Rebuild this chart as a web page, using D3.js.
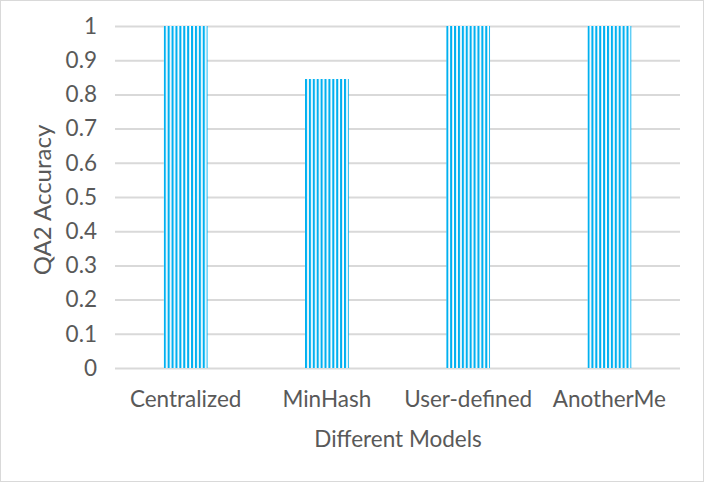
<!DOCTYPE html>
<html><head><meta charset="utf-8">
<script src="https://cdn.jsdelivr.net/npm/d3@7"></script>
<style>body{margin:0;background:#fff}svg{display:block}text{font-family:Lato,"Open Sans",sans-serif;fill:#595959}</style>
</head><body>
<svg id="c" width="704" height="482"></svg>
<script>
const categories = ["Centralized", "MinHash", "User-defined", "AnotherMe"];
const accuracy = [1, 0.845, 1, 1];
const yTicks = [0, 0.1, 0.2, 0.3, 0.4, 0.5, 0.6, 0.7, 0.8, 0.9, 1];
const yTickLabels = ["0", "0.1", "0.2", "0.3", "0.4", "0.5", "0.6", "0.7", "0.8", "0.9", "1"];
const xTitle = "Different Models";
const yTitle = "QA2 Accuracy";

(function(){
const svg = d3.select("#c");
svg.append("rect").attr("x",0.5).attr("y",0.5).attr("width",703).attr("height",481)
  .attr("fill","#fff").attr("stroke","#d9d9d9");

const defs = svg.append("defs");
const fs = "22.5px";

const pl = 115, pr = 680, pt = 26, pb = 368;
const x = d3.scaleBand().domain(categories).range([pl, pr]).paddingInner(0.69).paddingOuter(0.345);
const y = d3.scaleLinear().domain([0, 1]).range([pb, pt]);

const yAxis = d3.axisLeft(y).tickValues(yTicks).tickSize(-(pr-pl)).tickPadding(18)
  .tickFormat((d,i)=>yTickLabels[i]);
const gy = svg.append("g").attr("transform",`translate(${pl},0)`).call(yAxis);
gy.select(".domain").remove();
gy.selectAll(".tick line").attr("stroke","#d9d9d9").attr("stroke-width",2);
gy.selectAll(".tick text").style("font-size",fs).attr("fill","#595959");

const bars = svg.append("g");
bars.selectAll("rect").data(categories).join("rect")
  .attr("x", d=>x(d)).attr("width", x.bandwidth())
  .attr("y", (d,i)=>y(accuracy[i])).attr("height",(d,i)=>y(0)-y(accuracy[i]))
  .each(function(d,i){
    const id = "st"+i;
    const p = defs.append("pattern").attr("id",id).attr("patternUnits","userSpaceOnUse")
      .attr("x", x(d)).attr("width",3.9).attr("height",10);
    p.append("rect").attr("width",3.9).attr("height",10).attr("fill","#fff");
    p.append("rect").attr("width",2.1).attr("height",10).attr("fill","#00B0F0");
    d3.select(this).attr("fill",`url(#${id})`);
  });

const xAxis = d3.axisBottom(x).tickSize(0).tickPadding(23);
const gx = svg.append("g").attr("transform",`translate(0,${pb})`).call(xAxis);
gx.select(".domain").remove();
gx.selectAll(".tick text").style("font-size",fs).attr("fill","#595959");

svg.append("text").attr("x",398).attr("y",447).attr("text-anchor","middle")
  .style("font-size",fs).text(xTitle);
svg.append("text").attr("transform",`translate(51,200) rotate(-90)`)
  .attr("text-anchor","middle").style("font-size","24px").text(yTitle);
})();
</script>
</body></html>
